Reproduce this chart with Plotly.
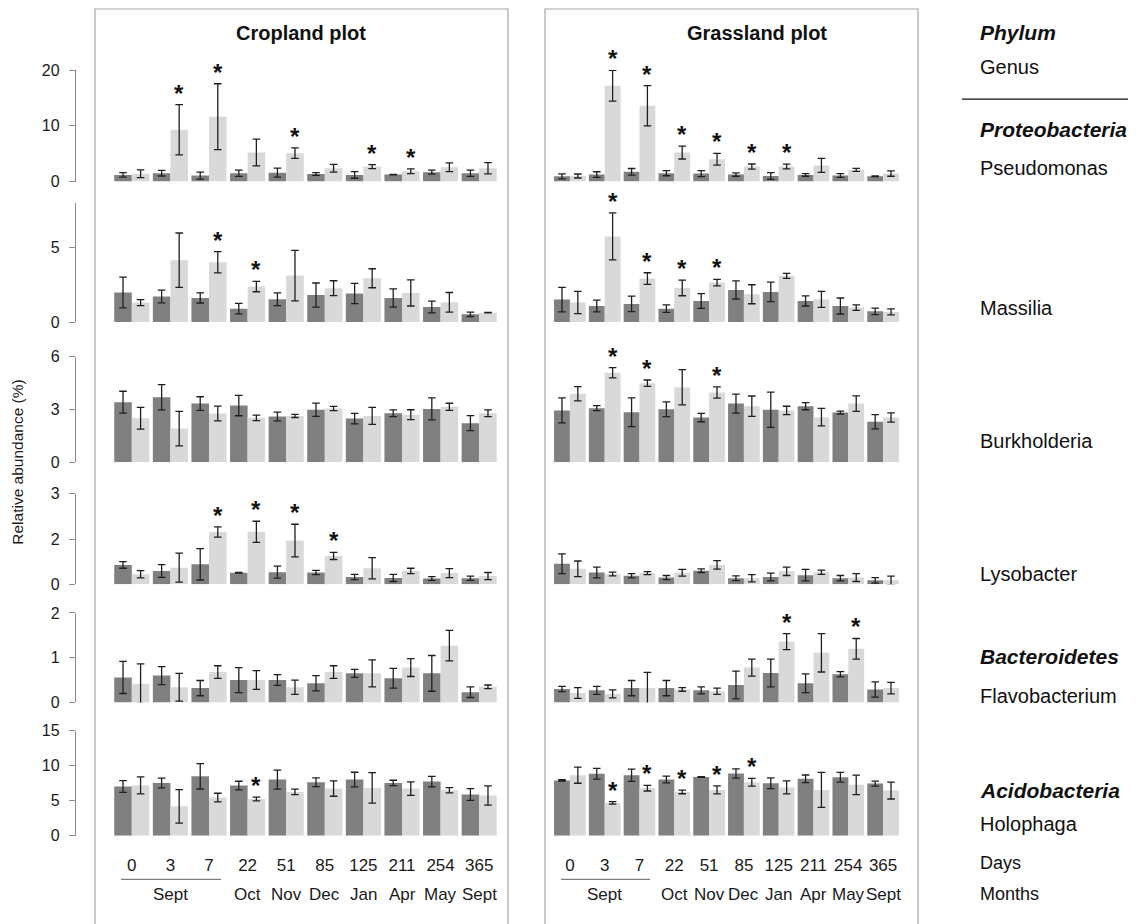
import plotly.graph_objects as go

# ---------------- data ----------------
days = ['0', '3', '7', '22', '51', '85', '125', '211', '254', '365']
months = ['Sept', 'Oct', 'Nov', 'Dec', 'Jan', 'Apr', 'May', 'Sept']
month_group = [1, 3, 4, 5, 6, 7, 8, 9]   # group index under which each month label sits
genera = ['Pseudomonas', 'Massilia', 'Burkholderia', 'Lysobacter', 'Flavobacterium', 'Holophaga']
phyla = ['Proteobacteria', 'Bacteroidetes', 'Acidobacteria']
plots = ['Cropland plot', 'Grassland plot']

# Pseudomonas
crop_pse_d = [1.2, 1.5, 1.08, 1.5, 1.6, 1.37, 1.2, 1.26, 1.68, 1.5]
crop_pse_d_err = [0.4, 0.5, 0.63, 0.55, 0.8, 0.25, 0.6, 0.05, 0.36, 0.57]
crop_pse_l = [1.4, 9.3, 11.65, 5.2, 5.1, 2.4, 2.7, 1.86, 2.58, 2.4]
crop_pse_l_err = [0.7, 4.5, 5.9, 2.4, 0.95, 0.7, 0.36, 0.42, 0.78, 1.0]
crop_pse_sig = [1, 2, 4, 6, 7]
grass_pse_d = [0.95, 1.26, 1.75, 1.5, 1.44, 1.26, 1.0, 1.2, 1.08, 0.95]
grass_pse_d_err = [0.45, 0.5, 0.6, 0.45, 0.54, 0.3, 0.6, 0.24, 0.33, 0.05]
grass_pse_l = [1.0, 17.2, 13.6, 5.2, 4.0, 2.7, 2.7, 2.9, 2.1, 1.44]
grass_pse_l_err = [0.36, 2.75, 3.6, 1.15, 1.05, 0.45, 0.42, 1.26, 0.27, 0.48]
grass_pse_sig = [1, 2, 3, 4, 5, 6]

# Massilia
crop_mas_d = [1.99, 1.72, 1.62, 0.9, 1.53, 1.82, 1.92, 1.62, 1.01, 0.52]
crop_mas_d_err = [1.04, 0.43, 0.34, 0.35, 0.43, 0.81, 0.68, 0.62, 0.4, 0.15]
crop_mas_l = [1.31, 4.17, 4.03, 2.39, 3.13, 2.28, 2.95, 1.96, 1.33, 0.63]
crop_mas_l_err = [0.2, 1.83, 0.72, 0.35, 1.7, 0.5, 0.64, 0.88, 0.66, 0.02]
crop_mas_sig = [2, 3]
grass_mas_d = [1.51, 1.08, 1.22, 0.9, 1.42, 2.16, 2.03, 1.42, 1.08, 0.72]
grass_mas_d_err = [0.82, 0.39, 0.52, 0.25, 0.5, 0.61, 0.66, 0.34, 0.54, 0.22]
grass_mas_l = [1.31, 5.77, 2.93, 2.3, 2.66, 1.87, 3.11, 1.53, 0.97, 0.68]
grass_mas_l_err = [0.75, 1.58, 0.39, 0.53, 0.22, 0.64, 0.17, 0.54, 0.19, 0.2]
grass_mas_sig = [1, 2, 3, 4]

# Burkholderia
crop_bur_d = [3.41, 3.69, 3.33, 3.22, 2.6, 2.98, 2.48, 2.78, 3.03, 2.22]
crop_bur_d_err = [0.62, 0.72, 0.39, 0.58, 0.25, 0.38, 0.3, 0.19, 0.63, 0.43]
crop_bur_l = [2.5, 1.91, 2.77, 2.52, 2.63, 3.05, 2.63, 2.7, 3.15, 2.78]
crop_bur_l_err = [0.62, 0.98, 0.42, 0.16, 0.09, 0.12, 0.48, 0.28, 0.2, 0.19]
crop_bur_sig = []
grass_bur_d = [2.94, 3.07, 2.84, 3.01, 2.54, 3.33, 2.98, 3.18, 2.82, 2.3]
grass_bur_d_err = [0.71, 0.14, 0.82, 0.42, 0.24, 0.54, 1.0, 0.2, 0.08, 0.4]
grass_bur_l = [3.89, 5.08, 4.49, 4.26, 3.96, 3.18, 2.94, 2.56, 3.33, 2.54]
grass_bur_l_err = [0.4, 0.29, 0.18, 1.0, 0.32, 0.58, 0.24, 0.5, 0.44, 0.26]
grass_bur_sig = [1, 2, 4]

# Lysobacter
crop_lys_d = [0.64, 0.44, 0.66, 0.38, 0.4, 0.39, 0.24, 0.21, 0.19, 0.2]
crop_lys_d_err = [0.11, 0.21, 0.52, 0.01, 0.2, 0.07, 0.09, 0.12, 0.06, 0.07]
crop_lys_l = [0.33, 0.55, 1.73, 1.74, 1.45, 0.94, 0.53, 0.44, 0.37, 0.27]
crop_lys_l_err = [0.12, 0.48, 0.17, 0.35, 0.54, 0.12, 0.35, 0.09, 0.15, 0.12]
crop_lys_sig = [2, 3, 4, 5]
grass_lys_d = [0.68, 0.39, 0.28, 0.22, 0.45, 0.2, 0.24, 0.3, 0.2, 0.13]
grass_lys_d_err = [0.33, 0.18, 0.07, 0.07, 0.06, 0.08, 0.13, 0.19, 0.09, 0.09]
grass_lys_l = [0.51, 0.34, 0.37, 0.38, 0.64, 0.2, 0.43, 0.4, 0.22, 0.13]
grass_lys_l_err = [0.26, 0.06, 0.05, 0.11, 0.14, 0.12, 0.14, 0.07, 0.13, 0.14]
grass_lys_sig = []

# Flavobacterium
crop_fla_d = [0.56, 0.6, 0.32, 0.5, 0.5, 0.43, 0.65, 0.54, 0.65, 0.23]
crop_fla_d_err = [0.36, 0.2, 0.17, 0.28, 0.12, 0.17, 0.09, 0.22, 0.4, 0.12]
crop_fla_l = [0.42, 0.34, 0.68, 0.5, 0.34, 0.68, 0.65, 0.78, 1.27, 0.35]
crop_fla_l_err = [0.44, 0.31, 0.14, 0.21, 0.16, 0.14, 0.3, 0.2, 0.34, 0.04]
crop_fla_sig = []
grass_fla_d = [0.3, 0.27, 0.32, 0.32, 0.27, 0.39, 0.66, 0.43, 0.63, 0.29]
grass_fla_d_err = [0.06, 0.09, 0.17, 0.17, 0.08, 0.31, 0.31, 0.21, 0.06, 0.17]
grass_fla_l = [0.21, 0.19, 0.32, 0.29, 0.25, 0.78, 1.36, 1.11, 1.2, 0.32]
grass_fla_l_err = [0.12, 0.09, 0.35, 0.04, 0.07, 0.19, 0.18, 0.43, 0.23, 0.13]
grass_fla_sig = [6, 8]

# Holophaga
crop_hol_d = [7.03, 7.55, 8.5, 7.17, 8.03, 7.65, 8.03, 7.55, 7.74, 5.88]
crop_hol_d_err = [0.84, 0.7, 1.82, 0.62, 1.36, 0.62, 1.05, 0.38, 0.76, 0.84]
crop_hol_l = [7.2, 4.2, 5.45, 5.25, 6.26, 6.74, 6.84, 6.74, 6.5, 5.74]
crop_hol_l_err = [1.22, 2.4, 0.62, 0.26, 0.4, 1.1, 2.18, 0.96, 0.38, 1.38]
crop_hol_sig = [3]
grass_hol_d = [7.9, 8.85, 8.65, 8.03, 8.4, 8.9, 7.5, 8.13, 8.37, 7.46]
grass_hol_d_err = [0.1, 0.77, 0.88, 0.48, 0.05, 0.67, 0.77, 0.55, 0.7, 0.36]
grass_hol_l = [8.65, 4.69, 6.79, 6.26, 6.55, 7.65, 6.9, 6.55, 7.27, 6.45]
grass_hol_l_err = [1.15, 0.19, 0.4, 0.26, 0.57, 0.55, 0.93, 2.5, 1.39, 1.2]
grass_hol_sig = [1, 2, 3, 4, 5]

# y-axis scales per genus row
row_max = [20, 8, 6, 3, 2, 15]
row_tickvals = [[0, 10, 20], [0, 5], [0, 3, 6], [0, 1.5, 3], [0, 1, 2], [0, 5, 10, 15]]
row_ticktext = [['0', '10', '20'], ['0', '5'], ['0', '3', '6'], ['0', '2', '3'], ['0', '1', '2'], ['0', '5', '10', '15']]

crop_rows = [
    (crop_pse_d, crop_pse_d_err, crop_pse_l, crop_pse_l_err, crop_pse_sig),
    (crop_mas_d, crop_mas_d_err, crop_mas_l, crop_mas_l_err, crop_mas_sig),
    (crop_bur_d, crop_bur_d_err, crop_bur_l, crop_bur_l_err, crop_bur_sig),
    (crop_lys_d, crop_lys_d_err, crop_lys_l, crop_lys_l_err, crop_lys_sig),
    (crop_fla_d, crop_fla_d_err, crop_fla_l, crop_fla_l_err, crop_fla_sig),
    (crop_hol_d, crop_hol_d_err, crop_hol_l, crop_hol_l_err, crop_hol_sig),
]
grass_rows = [
    (grass_pse_d, grass_pse_d_err, grass_pse_l, grass_pse_l_err, grass_pse_sig),
    (grass_mas_d, grass_mas_d_err, grass_mas_l, grass_mas_l_err, grass_mas_sig),
    (grass_bur_d, grass_bur_d_err, grass_bur_l, grass_bur_l_err, grass_bur_sig),
    (grass_lys_d, grass_lys_d_err, grass_lys_l, grass_lys_l_err, grass_lys_sig),
    (grass_fla_d, grass_fla_d_err, grass_fla_l, grass_fla_l_err, grass_fla_sig),
    (grass_hol_d, grass_hol_d_err, grass_hol_l, grass_hol_l_err, grass_hol_sig),
]

# ---------------- layout helpers ----------------
W, H = 1140, 924
FONT = 'Liberation Sans, Arial, sans-serif'
DARK = '#808080'
LIGHT = '#d9d9d9'
ERR = '#1f1f1f'
AXIS = '#8c8c8c'


def px(x):
    return x / W


def py(y):
    # vertical position measured on the reference picture -> paper fraction
    return 1 - ((y - 8) / 0.98) / H


col_x = [(112.5, 498.5), (552.5, 900.5)]
row_y = [(70, 181.3), (203, 321.5), (356, 461.5), (493, 583.3), (612, 701.3), (729.7, 834.3)]
idx = list(range(len(days)))

fig = go.Figure()
layout = dict(
    width=W, height=H, margin=dict(l=0, r=0, t=0, b=0),
    paper_bgcolor='white', plot_bgcolor='rgba(0,0,0,0)',
    barmode='group', bargap=0.09, bargroupgap=0.0, showlegend=False,
    font=dict(family=FONT, color='#1a1a1a', size=16),
)
annotations = []
shapes = []

for c, rows in enumerate([crop_rows, grass_rows]):
    for r, (dv, de, lv, le, sig) in enumerate(rows):
        n = r * 2 + c + 1
        xa, ya = f'x{n}', f'y{n}'
        for vals, errs, colr, grp in [(dv, de, DARK, 'd'), (lv, le, LIGHT, 'l')]:
            fig.add_trace(go.Bar(
                x=idx, y=vals, xaxis=xa, yaxis=ya, offsetgroup=grp,
                marker=dict(color=colr, line=dict(width=0)),
                error_y=dict(type='data', array=errs, color=ERR, thickness=1.3, width=3.8),
                cliponaxis=False, hoverinfo='skip',
            ))
        bottom = (r == len(rows) - 1)
        xkey = 'xaxis' if n == 1 else f'xaxis{n}'
        ykey = 'yaxis' if n == 1 else f'yaxis{n}'
        layout[xkey] = dict(
            domain=[px(col_x[c][0]), px(col_x[c][1])], anchor=ya,
            range=[-0.5, len(days) - 0.5], showgrid=False, zeroline=False, showline=False,
            tickmode='array', tickvals=idx, ticktext=days,
            showticklabels=bottom, ticks='', ticklabelstandoff=17,
            tickfont=dict(size=17, color='#1a1a1a'),
        )
        ydict = dict(
            domain=[py(row_y[r][1]), py(row_y[r][0])], range=[0, row_max[r]],
            showgrid=False, zeroline=False,
        )
        if c == 0:
            ydict.update(anchor='free', position=px(75), showline=True, linecolor=AXIS, linewidth=1.3,
                         ticks='outside', ticklen=6, tickcolor=AXIS, tickwidth=1.3,
                         tickmode='array', tickvals=row_tickvals[r], ticktext=row_ticktext[r],
                         ticklabelstandoff=6, tickfont=dict(size=16, color='#1a1a1a'))
        else:
            ydict.update(anchor=xa, visible=False)
        layout[ykey] = ydict
        # significance asterisks over light bars
        for i in sig:
            annotations.append(dict(
                x=i + 0.2275, y=lv[i] + le[i], xref=xa, yref=ya,
                text='<b>*</b>', showarrow=False, yanchor='bottom', xanchor='center',
                yshift=-4, font=dict(size=24, color='#111111', family=FONT),
            ))
    # month labels under the bottom row
    xa_bottom = f'x{(len(rows) - 1) * 2 + c + 1}'
    for m, g in zip(months, month_group):
        annotations.append(dict(
            x=g, y=py(893), xref=xa_bottom, yref='paper', text=m, showarrow=False,
            xanchor='center', yanchor='middle', font=dict(size=17, color='#1a1a1a'),
        ))

# panel titles
annotations.append(dict(x=px(301), y=py(33), xref='paper', yref='paper', text=f'<b>{plots[0]}</b>',
                        xanchor='center', yanchor='middle', showarrow=False,
                        font=dict(size=20, color='#111111')))
annotations.append(dict(x=px(757), y=py(33), xref='paper', yref='paper', text=f'<b>{plots[1]}</b>',
                        xanchor='center', yanchor='middle', showarrow=False,
                        font=dict(size=20, color='#111111')))
# y title
annotations.append(dict(x=px(18), y=py(462), xref='paper', yref='paper', text='Relative abundance (%)',
                        xanchor='center', yanchor='middle', textangle=-90, showarrow=False,
                        font=dict(size=15.5, color='#1a1a1a')))

# right-hand labels
right_labels = [
    ('<b><i>Phylum</i></b>', 32), ('Genus', 67),
    (f'<b><i>{phyla[0]}</i></b>', 129), (genera[0], 168), (genera[1], 308), (genera[2], 440), (genera[3], 573),
    (f'<b><i>{phyla[1]}</i></b>', 655), (genera[4], 695),
    (f'<b><i>{phyla[2]}</i></b>', 789), (genera[5], 823),
    ('Days', 862), ('Months', 893),
]
for t, yy in right_labels:
    if t in ('Days', 'Months'):
        size = 18
    elif t.startswith('<b>'):
        size = 21
    else:
        size = 20
    annotations.append(dict(x=px(978), y=py(yy), xref='paper', yref='paper', text=t, showarrow=False,
                            xanchor='left', yanchor='middle', font=dict(size=size, color='#111111')))

# panel boxes
for x0, x1 in [(95, 508), (545, 918)]:
    shapes.append(dict(type='rect', xref='paper', yref='paper', x0=px(x0), x1=px(x1), y0=py(960), y1=py(9),
                       line=dict(color='#a6a6a6', width=1.2), fillcolor='rgba(0,0,0,0)', layer='below'))
# Sept underline
for x0, x1 in [(121, 221), (561, 650)]:
    shapes.append(dict(type='line', xref='paper', yref='paper', x0=px(x0), x1=px(x1), y0=py(878), y1=py(878),
                       line=dict(color='#7f7f7f', width=1.2)))
# divider under Genus
shapes.append(dict(type='line', xref='paper', yref='paper', x0=px(962), x1=px(1128), y0=py(99), y1=py(99),
                   line=dict(color='#111111', width=1.2)))

layout['annotations'] = annotations
layout['shapes'] = shapes
fig.update_layout(**layout)
fig.write_html('out.html', config={'displayModeBar': False},
               post_script="document.body.style.margin='0px';")
